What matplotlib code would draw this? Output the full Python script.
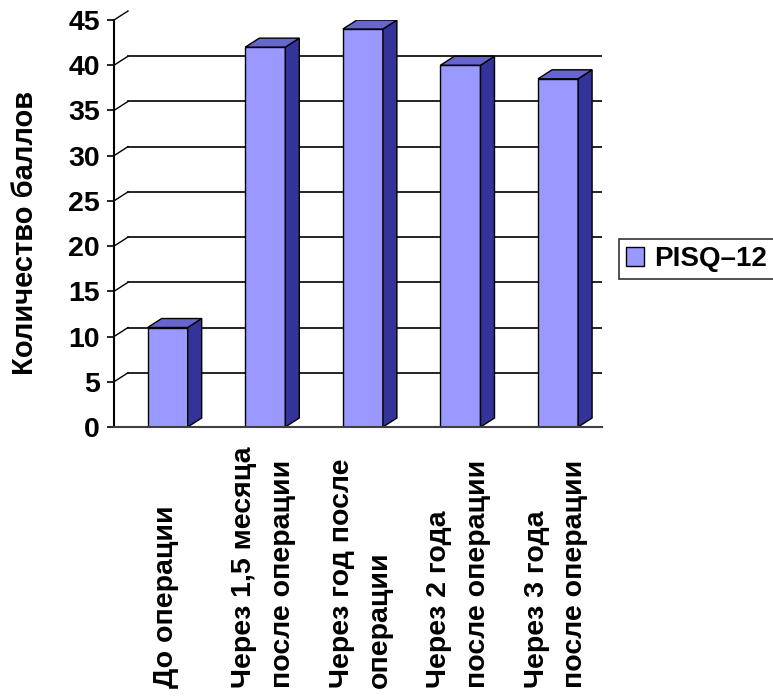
import matplotlib.pyplot as plt
import matplotlib.transforms as mtransforms
from matplotlib.patches import Polygon, Patch

plt.rcParams['font.family'] = ['Liberation Sans', 'DejaVu Sans']
plt.rcParams['font.weight'] = 'bold'

categories = ['До операции',
              'Через 1,5 месяца\nпосле операции',
              'Через год после\nоперации',
              'Через 2 года\nпосле операции',
              'Через 3 года\nпосле операции']
scores = [11, 42, 44, 40, 38.5]
series_name = 'PISQ\u201312'
y_ticks = [0, 5, 10, 15, 20, 25, 30, 35, 40, 45]

front = '#9999FF'
side = '#333399'
top = '#6666CC'

W, H = 773, 697
fig = plt.figure(figsize=(W / 100, H / 100), dpi=100)

# axes box in pixels (left, right, top, bottom)
L, R, T, B = 114, 602, 20, 427
ax = fig.add_axes([L / W, (H - B) / H, (R - L) / W, (B - T) / H])
ax.set_xlim(-0.5, 4.5)
ax.set_ylim(0, 45)

# depth of the fake 3d in data units
dx = 14 / ((R - L) / 5)
dy = 9 / ((B - T) / 45)
width = 0.41

x = [i + 0.05 for i in range(len(scores))]

# back wall gridlines + side wall diagonals
for v in y_ticks[1:]:
    if v < 45:
        ax.plot([-0.5 + dx, 4.55], [v + dy, v + dy], color='black', lw=1.2, zorder=0.5)
    ax.plot([-0.5, -0.5 + dx], [v, v + dy], color='black', lw=1, zorder=0.5, clip_on=False)

bars = ax.bar(x, scores, width=width, color=front, edgecolor='black', linewidth=1, zorder=2)

for xi, v in zip(x, scores):
    x0 = xi - width / 2
    x1 = xi + width / 2
    ax.add_patch(Polygon([(x1, 0), (x1 + dx, dy), (x1 + dx, v + dy), (x1, v)],
                         closed=True, facecolor=side, edgecolor='black', lw=1, zorder=2))
    ax.add_patch(Polygon([(x0, v), (x1, v), (x1 + dx, v + dy), (x0 + dx, v + dy)],
                         closed=True, facecolor=top, edgecolor='black', lw=1, zorder=2))

ax.spines['top'].set_visible(False)
ax.spines['right'].set_visible(False)
ax.spines['left'].set_linewidth(1.5)
ax.spines['bottom'].set_linewidth(1.5)
ax.spines['bottom'].set_color('#404040')

ax.set_yticks(y_ticks)
ax.set_yticklabels([str(t) for t in y_ticks], fontsize=20.5, fontweight='bold')
ax.tick_params(axis='y', direction='out', length=5, width=1.2, pad=5)
ax.set_xticks([])

fig.text(25 / W, (H - 233) / H, 'Количество баллов', rotation=90,
         ha='center', va='center', fontsize=21, fontweight='bold')

trans = mtransforms.blended_transform_factory(ax.transData, fig.transFigure)
for i, lab in enumerate(categories):
    ax.text(i + 0.03, 9 / H, lab, transform=trans, rotation=90, ha='center', va='bottom',
            multialignment='left', fontsize=20.5, fontweight='bold', linespacing=1.62)

handle = Patch(facecolor=front, edgecolor='black', linewidth=1)
leg = fig.legend([handle], [series_name], loc='center left',
                 bbox_to_anchor=(619 / W, (H - 259) / H), bbox_transform=fig.transFigure,
                 fancybox=False, frameon=True, fontsize=20, borderpad=0.25,
                 handlelength=0.65, handleheight=0.65, handletextpad=0.35, borderaxespad=0)
leg.get_frame().set_edgecolor('black')
leg.get_frame().set_linewidth(1.2)
for t in leg.get_texts():
    t.set_fontweight('bold')

fig.savefig('out.png', dpi=100)
